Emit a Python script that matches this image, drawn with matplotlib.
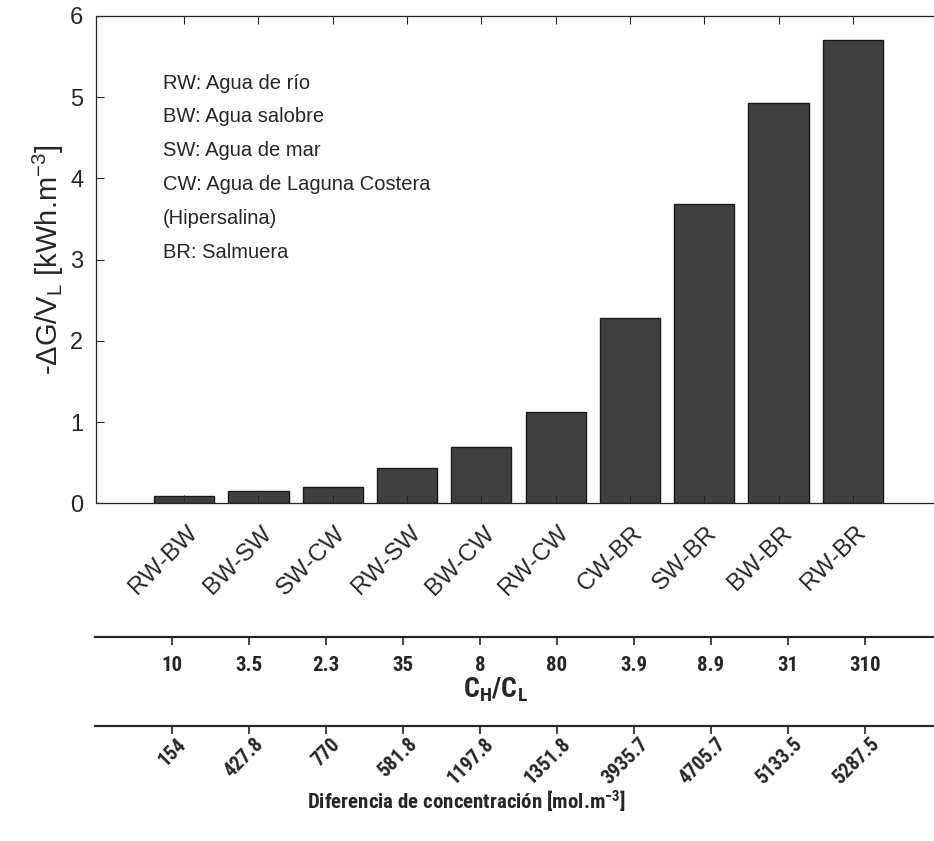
import matplotlib
matplotlib.use("Agg")
import matplotlib.pyplot as plt
from matplotlib import font_manager
from matplotlib.transforms import ScaledTranslation

# ---- data ----
pairs = ["RW-BW", "BW-SW", "SW-CW", "RW-SW", "BW-CW",
         "RW-CW", "CW-BR", "SW-BR", "BW-BR", "RW-BR"]
energy = [0.09, 0.15, 0.20, 0.44, 0.69, 1.13, 2.28, 3.69, 4.93, 5.71]
ratio_labels = ["10", "3.5", "2.3", "35", "8", "80", "3.9", "8.9", "31", "310"]
diff_labels = ["154", "427.8", "770", "581.8", "1197.8",
               "1351.8", "3935.7", "4705.7", "5133.5", "5287.5"]
legend_lines = ["RW: Agua de río", "BW: Agua salobre", "SW: Agua de mar",
                "CW: Agua de Laguna Costera", "(Hipersalina)", "BR: Salmuera"]

# condensed face for the lower axes, if one is available
installed = {f.name for f in font_manager.fontManager.ttflist}
narrow = "Liberation Sans"
for cand in ["Liberation Sans Narrow", "Roboto Condensed",
             "DejaVu Sans Condensed", "Open Sans Condensed", "Arial Narrow"]:
    if cand in installed:
        narrow = cand
        break
is_narrow = narrow != "Liberation Sans"

plt.rcParams["font.family"] = ["Liberation Sans", "DejaVu Sans"]
plt.rcParams["mathtext.fontset"] = "custom"
plt.rcParams["mathtext.rm"] = "Liberation Sans"
plt.rcParams["mathtext.it"] = "Liberation Sans:italic"
plt.rcParams["mathtext.bf"] = narrow + ":bold"

ink = "#262626"
W, H = 934, 841
fig = plt.figure(figsize=(W / 100, H / 100), dpi=100)

def rect(x0, y0, x1, y1):
    return [x0 / W, 1 - y1 / H, (x1 - x0) / W, (y1 - y0) / H]

def shift_labels(labels, dx_pt, dy_pt):
    off = ScaledTranslation(dx_pt / 72, dy_pt / 72, fig.dpi_scale_trans)
    for lab in labels:
        lab.set_transform(lab.get_transform() + off)

# ---- main bar chart ----
ax = fig.add_axes(rect(95.7, 16, 950, 503.3))
x = list(range(1, len(pairs) + 1))
ax.bar(x, energy, width=0.81, color="#404040", edgecolor="#1a1a1a",
       linewidth=1.0, zorder=1)
ax.set_xlim(-0.19, -0.19 + (950 - 95.7) / 74.3)
ax.set_ylim(0, 6)
ax.set_yticks(range(0, 7))
ax.set_xticks(x)
ax.tick_params(axis="both", direction="in", length=5.5, width=0.8,
               colors=ink, top=True, right=True)
ax.tick_params(axis="y", labelsize=17, pad=9)
ax.tick_params(axis="x", pad=8)
ax.set_xticklabels(pairs, rotation=45, ha="right", va="center",
                   rotation_mode="anchor", fontsize=17.5, color=ink)
for s in ax.spines.values():
    s.set_color(ink)
    s.set_linewidth(0.9)
ax.set_ylabel(r"-ΔG/V$_\mathregular{L}$ [kWh.m$^\mathregular{-3}$]",
              fontsize=21, color=ink, labelpad=3)

for i, line in enumerate(legend_lines):
    ax.text(0.0788, 0.8625 - i * 0.0695, line, transform=ax.transAxes,
            fontsize=14.5, color=ink, va="center", ha="left")

# ---- secondary category axes ----
tick_size = 15 if is_narrow else 12.5

def extra_axis(y_px, labels, rot):
    a = fig.add_axes(rect(95, y_px - 0.5, 942, y_px))
    a.set_xlim(0, 11)
    a.set_xticks(x)
    for side in ("top", "left", "right"):
        a.spines[side].set_visible(False)
    a.spines["bottom"].set_color(ink)
    a.spines["bottom"].set_linewidth(1.6)
    a.set_yticks([])
    a.patch.set_visible(False)
    a.tick_params(axis="x", direction="out", length=5.5, width=1.2,
                  colors=ink, pad=8.5)
    if rot:
        a.set_xticklabels(labels, rotation=45, ha="right", va="center",
                          rotation_mode="anchor", fontsize=tick_size - 0.5,
                          fontweight="bold", family=[narrow, "DejaVu Sans"],
                          color=ink)
    else:
        a.set_xticklabels(labels, fontsize=tick_size, fontweight="bold",
                          family=[narrow, "DejaVu Sans"], color=ink)
    return a

ax2 = extra_axis(636.7, ratio_labels, False)
ax3 = extra_axis(726, diff_labels, True)

# label offsets, applied once all tick settings are final
shift_labels(ax.get_xticklabels(), 7, -11)
shift_labels(ax3.get_xticklabels(), 8, 3)

fig.text(495 / W, 1 - 690 / H, r"$\mathbf{C_H/C_L}$", fontsize=20,
         color=ink, ha="center", va="center")
fig.text(467 / W, 1 - 802 / H,
         r"Diferencia de concentración [mol.m$^\mathbf{-3}$]",
         fontsize=15 if is_narrow else 13, fontweight="bold", color=ink,
         family=[narrow, "DejaVu Sans"], ha="center", va="center")

fig.savefig("out.png", dpi=100)
